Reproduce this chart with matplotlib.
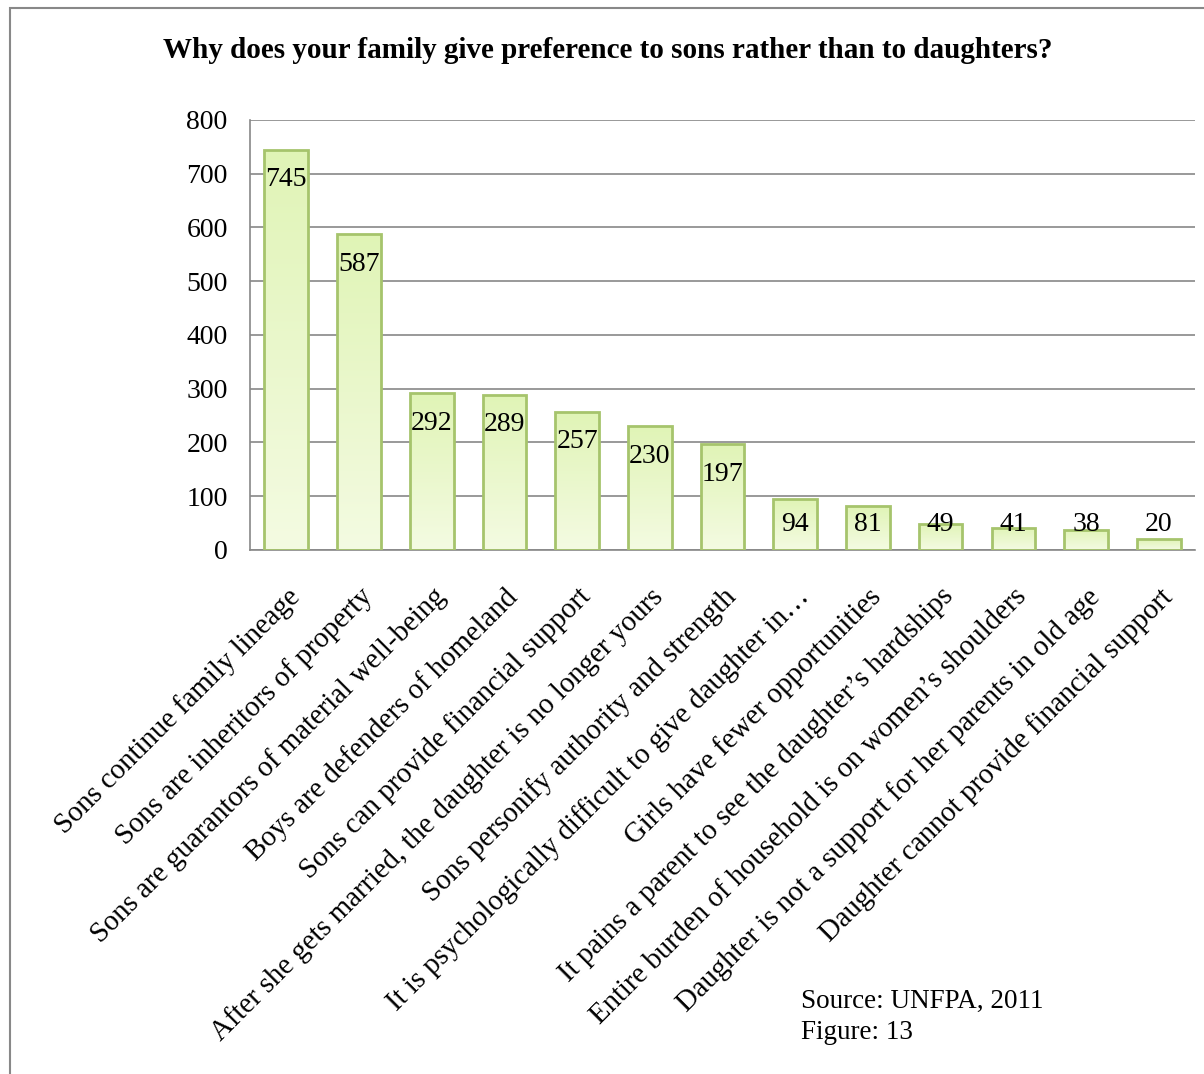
import numpy as np
import matplotlib
matplotlib.use("Agg")
import matplotlib.pyplot as plt
from matplotlib.colors import LinearSegmentedColormap
from matplotlib.patches import Rectangle

plt.rcParams['font.family'] = ['Liberation Serif', 'DejaVu Serif']

categories = [
    "Sons continue family lineage",
    "Sons are inheritors of property",
    "Sons are guarantors of material well-being",
    "Boys are defenders of homeland",
    "Sons can provide financial support",
    "After she gets married, the daughter is no longer yours",
    "Sons personify authority and strength",
    "It is psychologically difficult to give daughter in\u2026",
    "Girls have fewer opportunities",
    "It pains a parent to see the daughter\u2019s hardships",
    "Entire burden of household is on women\u2019s shoulders",
    "Daughter is not a support for her parents in old age",
    "Daughter cannot provide financial support",
]
values = [745, 587, 292, 289, 257, 230, 197, 94, 81, 49, 41, 38, 20]
title = "Why does your family give preference to sons rather than to daughters?"

fig = plt.figure(figsize=(12.04, 10.74), dpi=100)
fig.patches.append(Rectangle((0.008, -0.01), 0.995, 1.003, transform=fig.transFigure,
                             fill=False, edgecolor='#888888', lw=1.5))

ax = fig.add_axes([0.2076, 0.4879, 0.785, 0.4004])
x = np.arange(len(values))
bars = ax.bar(x, values, width=0.6, color='none', edgecolor='#a6c46c', lw=2, zorder=3)

# gradient fill for each bar
cmap = LinearSegmentedColormap.from_list('g', ['#f4fbe2', '#e0f4b6'])
grad = np.linspace(0, 1, 256).reshape(-1, 1)
for b in bars:
    x0, w, h = b.get_x(), b.get_width(), b.get_height()
    im = ax.imshow(grad, extent=[x0, x0 + w, 0, h], origin='lower', cmap=cmap,
                   aspect='auto', zorder=2)
    im.set_clip_path(b)

for xi, v in zip(x, values):
    ax.text(xi, max(v - 56, 47), str(v), ha='center', va='center', fontsize=20, zorder=4)

ax.set_xlim(-0.5, len(values) - 0.5)
ax.set_ylim(0, 800)
ax.set_yticks(range(0, 801, 100))
ax.yaxis.grid(True, color='#888888', lw=1.2, zorder=1)
ax.tick_params(axis='y', length=0, pad=16, labelsize=20)
ax.tick_params(axis='x', length=0, pad=24)
ax.set_xticks(x)
ax.set_xticklabels(categories, rotation=45, ha='right', rotation_mode='anchor', fontsize=20.7)
for s in ['top', 'right']:
    ax.spines[s].set_visible(False)
ax.spines['left'].set_color('#888888')
ax.spines['bottom'].set_color('#888888')
ax.spines['left'].set_linewidth(1.2)
ax.spines['bottom'].set_linewidth(1.2)

fig.text(0.505, 0.953, title, ha='center', va='center', fontsize=21, fontweight='bold')
fig.text(0.665, 0.053, "Source: UNFPA, 2011\nFigure: 13", ha='left', va='center',
         fontsize=19.5, linespacing=1.3)

fig.savefig("out.png", dpi=100)
